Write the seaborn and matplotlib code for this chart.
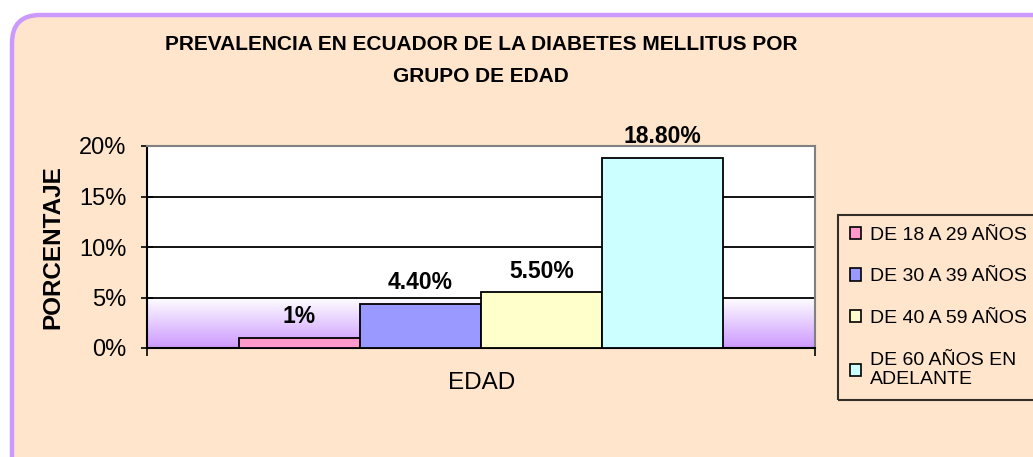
import numpy as np
import pandas as pd
import seaborn as sns
import matplotlib.pyplot as plt
from matplotlib.patches import FancyBboxPatch, Patch
from matplotlib.colors import LinearSegmentedColormap
from matplotlib.ticker import PercentFormatter

# data
grupos = ['DE 18 A 29 AÑOS', 'DE 30 A 39 AÑOS', 'DE 40 A 59 AÑOS', 'DE 60 AÑOS EN\nADELANTE']
prevalencia = [0.01, 0.044, 0.055, 0.188]
etiquetas = ['1%', '4.40%', '5.50%', '18.80%']
colores = ['#FF99CC', '#9999FF', '#FFFFCC', '#CCFFFF']

df = pd.DataFrame({'edad': ['EDAD'] * 4, 'grupo': grupos, 'valor': prevalencia})

sns.set_style("white")
plt.rcParams['font.family'] = ['Liberation Sans', 'DejaVu Sans']
plt.rcParams['text.color'] = 'black'
plt.rcParams['xtick.color'] = 'black'
plt.rcParams['ytick.color'] = 'black'

W, H = 1033, 457
fig = plt.figure(figsize=(W / 100, H / 100), dpi=100, facecolor='white')

# background panel with rounded purple border (cut off at right/bottom)
bg = fig.add_axes([0, 0, 1, 1], zorder=-5)
bg.set_xlim(0, W)
bg.set_ylim(0, H)
bg.axis('off')
bg.add_patch(FancyBboxPatch((12, -60), 1100, H - 15 + 60,
                            boxstyle='round,pad=0,rounding_size=28',
                            facecolor='#FFE5CC', edgecolor='#CC99FF', linewidth=3.2))

ax = fig.add_axes([147 / W, 1 - 348 / H, (815 - 147) / W, (348 - 146) / H])
ax.set_facecolor('white')

# gradient band at the bottom of the plot area
grad = np.linspace(0, 1, 100).reshape(-1, 1)
cmap = LinearSegmentedColormap.from_list('g', ['#CC99FF', '#FFFFFF'])
ax.imshow(grad, extent=(-0.5, 0.5, 0, 0.05), origin='lower', aspect='auto',
          cmap=cmap, zorder=0.5)

sns.barplot(data=df, x='edad', y='valor', hue='grupo', palette=colores,
            width=0.726, edgecolor='black', linewidth=1.3, saturation=1,
            legend=False, ax=ax, zorder=3)

for cont, lab in zip(ax.containers, etiquetas):
    ax.bar_label(cont, labels=[lab], padding=7, fontsize=16.5, fontweight='bold')

ax.set_xlim(-0.5, 0.5)
ax.set_ylim(0, 0.20)
ax.set_yticks([0, 0.05, 0.10, 0.15, 0.20])
ax.yaxis.set_major_formatter(PercentFormatter(1.0, decimals=0))
ax.grid(axis='y', color='black', linewidth=1.3, zorder=1)
ax.set_axisbelow(True)
ax.set_xticks([-0.5, 0.5])
ax.set_xticklabels(['', ''])
ax.tick_params(axis='y', direction='inout', length=9, width=1.2, labelsize=17, pad=10.5, left=True)
ax.tick_params(axis='x', direction='out', length=6, width=1.2, bottom=True)
ax.set_xlabel('')
ax.set_ylabel('')
for s in ['left', 'bottom']:
    ax.spines[s].set_color('black')
    ax.spines[s].set_linewidth(1.5)
for s in ['top', 'right']:
    ax.spines[s].set_color('#808080')
    ax.spines[s].set_linewidth(1.5)

fig.text(481 / W, 1 - 60.5 / H, 'PREVALENCIA EN ECUADOR DE LA DIABETES MELLITUS POR\nGRUPO DE EDAD',
         ha='center', va='center', fontsize=15, fontweight='bold', linespacing=1.8)
fig.text(53 / W, 1 - 247 / H, 'PORCENTAJE', rotation=90, ha='center', va='center',
         fontsize=17.5, fontweight='bold')
fig.text(482 / W, 1 - 383 / H, 'EDAD', ha='center', va='center', fontsize=17.5)

handles = [Patch(facecolor=c, edgecolor='black', linewidth=1.2) for c in colores]
leg = fig.legend(handles, grupos, loc='upper left', bbox_to_anchor=(838 / W, 1 - 215 / H),
                 borderaxespad=0, frameon=True, fancybox=False, fontsize=14,
                 handlelength=0.6, handleheight=0.6, handletextpad=0.45,
                 labelspacing=1.27, borderpad=0.6)
leg.get_frame().set_edgecolor('black')
leg.get_frame().set_linewidth(1.5)
leg.get_frame().set_facecolor('none')

fig.savefig('out.png', dpi=100, facecolor=fig.get_facecolor())
